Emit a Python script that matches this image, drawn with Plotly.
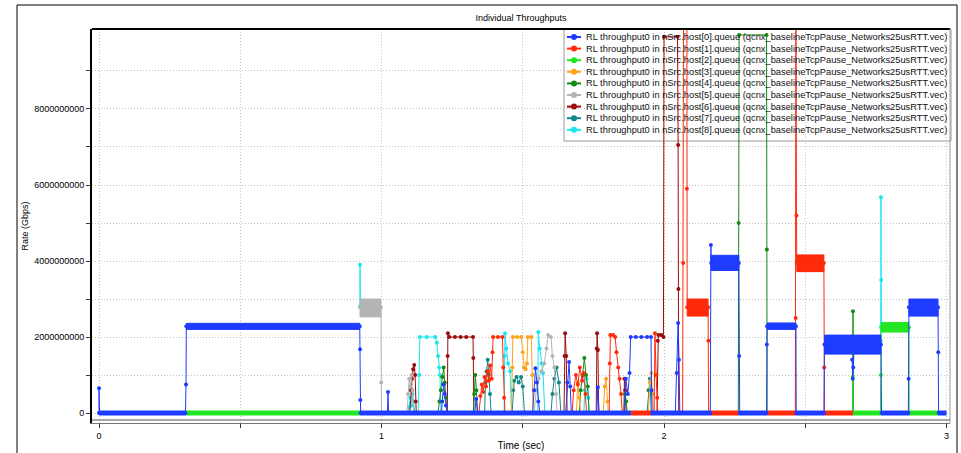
import plotly.graph_objects as go

# ---------------- data (time in s, rate in units of 1e9 bit/s) ----------------
HOST_NAMES = ["host[0]", "host[1]", "host[2]", "host[3]", "host[4]",
              "host[5]", "host[6]", "host[7]", "host[8]"]
LEGEND_TEMPLATE = "RL throughput0 in nSrc.{h}.queue (qcnx_baselineTcpPause_Networks25usRTT.vec)"
COLORS = ["#1e3cff", "#ff2a0a", "#22e622", "#ffa31a", "#138a13",
          "#b4b4b4", "#9e0b0b", "#0f8585", "#19e6f0"]

X_TICKS = [0, 0.5, 1, 1.5, 2, 2.5, 3]
X_TICKTEXT = ["0", "", "1", "", "2", "", "3"]
Y_TICKS = [0, 1e9, 2e9, 3e9, 4e9, 5e9, 6e9, 7e9, 8e9, 9e9]
Y_TICKTEXT = ["0", "", "2000000000", "", "4000000000", "", "6000000000", "", "8000000000", ""]

host0_points = [(0.000, 0.00), (0.000, 0.65), (0.002, 0.00), None,
                (0.306, 0.00), (0.308, 0.75), (0.309, 2.28), None,
                (0.923, 2.28), (0.924, 1.68), (0.925, 0.34), (0.926, 0.00), None,
                (1.021, 0.00), (1.023, 0.55), (1.025, 0.00), None,
                (1.212, 0.00), (1.215, 0.30), (1.220, 0.75), (1.224, 0.50), (1.228, 0.20), (1.232, 0.00), None,
                (1.330, 0.00), (1.335, 0.37), (1.340, 0.00), None,
                (1.535, 0.00), (1.540, 0.60), (1.545, 1.18), (1.550, 0.80), (1.555, 0.30), (1.560, 0.00), None,
                (1.652, 0.00), (1.658, 0.80), (1.664, 1.34), (1.668, 0.70), (1.672, 0.00), None,
                (1.762, 0.00), (1.766, 0.68), (1.770, 0.00), None,
                (1.860, 0.00), (1.865, 0.90), (1.872, 0.50), (1.878, 1.05), (1.882, 2.00), (1.900, 2.00),
                (1.920, 2.00), (1.940, 2.00), (1.954, 2.00), (1.956, 0.60), (1.958, 0.00), None,
                (2.040, 0.00), (2.045, 1.05), (2.050, 2.37), (2.053, 1.40), (2.056, 0.00), None,
                (2.164, 0.00), (2.166, 4.42), (2.167, 3.95), None,
                (2.265, 3.95), (2.266, 1.50), (2.268, 0.00), None,
                (2.363, 0.00), (2.364, 1.80), (2.365, 2.28), None,
                (2.467, 2.28), (2.468, 0.00), None,
                (2.566, 0.00), (2.568, 1.80), None,
                (2.666, 1.40), (2.668, 0.90), (2.670, 1.20), (2.672, 1.60), None,
                (2.768, 1.80), (2.770, 0.00), None,
                (2.865, 0.00), (2.866, 0.90), (2.867, 2.78), None,
                (2.970, 2.78), (2.971, 1.60), (2.972, 0.00)]
host0_bands = [(0.309, 0.923, 2.20, 2.36), (2.166, 2.265, 3.75, 4.15), (2.365, 2.467, 2.20, 2.37),
               (2.568, 2.768, 1.55, 2.05), (2.867, 2.970, 2.55, 3.00)]
host0_idle = [(0.000, 0.308), (0.924, 1.883), (1.954, 2.166), (2.265, 2.365),
              (2.467, 2.568), (2.768, 2.867), (2.970, 3.000)]

host1_points = [(1.345, 0.00), (1.350, 0.45), (1.355, 0.75), (1.360, 0.55), (1.365, 0.95), (1.370, 0.70),
                (1.375, 1.10), (1.380, 0.85), (1.385, 1.25), (1.390, 0.90), (1.393, 1.60), (1.395, 2.00),
                (1.412, 2.00), (1.428, 2.00), (1.431, 1.20), (1.434, 0.40), (1.437, 0.00), None,
                (1.675, 0.00), (1.680, 0.60), (1.688, 1.00), (1.695, 0.75), (1.702, 1.20), (1.710, 0.85),
                (1.716, 1.05), (1.722, 0.50), (1.726, 0.00), None,
                (1.806, 0.00), (1.808, 1.30), (1.810, 2.05), (1.820, 2.05), (1.827, 2.00), (1.832, 1.60),
                (1.838, 1.20), (1.843, 0.90), (1.848, 0.50), (1.852, 0.00), None,
                (1.965, 0.00), (1.968, 2.10), (1.972, 1.00), (1.976, 0.40), (1.978, 0.00), None,
                (2.066, 0.00), (2.068, 3.95), (2.069, 10.3), None,
                (2.081, 10.3), (2.081, 5.90), (2.082, 2.78), None,
                (2.156, 2.78), (2.157, 1.90), (2.158, 0.00), None,
                (2.465, 0.00), (2.466, 2.50), (2.467, 10.3), (2.469, 5.20), (2.470, 3.95), None,
                (2.566, 3.95), (2.567, 1.20), (2.568, 0.00)]
host1_bands = [(2.082, 2.156, 2.55, 3.00), (2.470, 2.566, 3.72, 4.16)]
host1_idle = [(1.883, 1.954), (2.166, 2.265), (2.365, 2.467), (2.568, 2.669)]

host2_points = [(2.668, 0.95), (2.669, 0.00), None,
                (2.766, 0.00), (2.768, 1.00), (2.769, 2.25), None,
                (2.867, 2.25), (2.868, 0.00)]
host2_bands = [(2.769, 2.867, 2.13, 2.38)]
host2_idle = [(0.308, 0.924), (2.669, 2.768), (2.867, 2.970)]

host3_points = [(1.460, 0.00), (1.463, 1.20), (1.465, 2.00), (1.480, 2.00), (1.495, 2.00), (1.500, 1.60),
                (1.505, 1.20), (1.510, 1.15), (1.515, 1.30), (1.518, 2.00), (1.530, 2.00), (1.534, 1.00),
                (1.536, 0.00), None,
                (1.690, 0.00), (1.695, 0.80), (1.700, 0.40), (1.705, 0.00), None,
                (1.785, 0.00), (1.790, 0.70), (1.795, 0.90), (1.800, 0.30), (1.803, 0.00), None,
                (1.945, 0.00), (1.950, 0.80), (1.955, 1.05), (1.960, 0.50), (1.963, 0.00)]
host3_bands = []
host3_idle = []

host4_points = [(1.200, 0.00), (1.205, 0.30), (1.210, 0.60), (1.215, 0.95), (1.220, 1.20), (1.224, 0.80),
                (1.228, 0.40), (1.232, 0.00), None,
                (1.325, 0.00), (1.328, 0.50), (1.332, 1.00), (1.336, 0.60), (1.340, 0.00), None,
                (1.700, 0.00), (1.705, 0.60), (1.712, 1.00), (1.718, 1.45), (1.724, 1.00), (1.730, 0.70),
                (1.735, 0.00), None,
                (1.858, 0.00), (1.862, 0.50), (1.866, 0.30), (1.870, 0.00), None,
                (2.263, 0.00), (2.264, 5.00), (2.266, 9.95), (2.363, 9.95), (2.364, 4.30), (2.365, 0.00), None,
                (2.668, 0.00), (2.669, 2.68), (2.670, 0.00)]
host4_bands = []
host4_idle = []

host5_points = [(0.924, 2.78), None,
                (0.998, 2.78), (0.999, 0.80), (1.000, 0.00), None,
                (1.090, 0.00), (1.094, 0.50), (1.098, 0.90), (1.102, 0.70), (1.106, 1.00), (1.110, 0.60),
                (1.114, 0.00), None,
                (1.540, 0.00), (1.548, 0.60), (1.556, 0.90), (1.566, 1.10), (1.576, 1.30), (1.584, 1.70),
                (1.590, 2.05), (1.600, 2.00), (1.605, 1.50), (1.612, 1.20), (1.618, 0.50), (1.622, 0.00)]
host5_bands = [(0.924, 0.998, 2.53, 3.00)]
host5_idle = []

host6_points = [(1.100, 0.00), (1.104, 0.60), (1.108, 0.90), (1.112, 1.15), (1.116, 1.26), (1.119, 1.00),
                (1.121, 0.30), (1.123, 0.00), None,
                (1.233, 0.00), (1.234, 1.50), (1.235, 2.10), (1.240, 2.00), (1.260, 2.00), (1.280, 2.00),
                (1.300, 2.00), (1.324, 2.00), (1.325, 1.45), (1.327, 0.00), None,
                (1.646, 0.00), (1.648, 1.50), (1.650, 2.10), (1.654, 1.50), (1.657, 0.00), None,
                (1.760, 0.00), (1.762, 1.70), (1.763, 2.10), (1.766, 1.66), (1.769, 0.00), None,
                (1.858, 0.00), (1.860, 0.90), (1.863, 0.60), (1.866, 0.00), None,
                (1.975, 0.00), (1.978, 1.90), (1.980, 2.05), (1.990, 2.05), (1.998, 2.00), (2.000, 9.90),
                (2.048, 9.90), (2.050, 7.05), (2.051, 3.26), (2.052, 0.00)]
host6_bands = []
host6_idle = []

host7_points = [(1.365, 0.00), (1.368, 0.80), (1.372, 1.10), (1.376, 1.40), (1.380, 1.00), (1.384, 0.50),
                (1.388, 0.00), None,
                (1.462, 0.00), (1.466, 0.60), (1.470, 0.85), (1.478, 0.95), (1.486, 0.80), (1.494, 0.95),
                (1.500, 0.70), (1.506, 0.00), None,
                (1.600, 0.00), (1.605, 0.50), (1.612, 0.90), (1.620, 1.20), (1.628, 0.80), (1.635, 0.00), None,
                (1.940, 0.00), (1.945, 0.60), (1.950, 0.90), (1.955, 0.00)]
host7_bands = []
host7_idle = []

host8_points = [(0.924, 2.80), (0.924, 3.90), (0.925, 2.80), None,
                (1.094, 0.00), (1.098, 0.15), (1.102, 0.40), (1.106, 0.20), (1.110, 0.50), (1.114, 0.30),
                (1.118, 0.00), None,
                (1.130, 0.00), (1.134, 1.00), (1.136, 2.00), (1.160, 2.00), (1.190, 2.00), (1.196, 1.85),
                (1.200, 1.50), (1.204, 1.20), (1.207, 1.00), (1.210, 0.00), None,
                (1.434, 0.00), (1.436, 1.50), (1.437, 2.10), (1.442, 1.70), (1.448, 1.30), (1.455, 1.10),
                (1.460, 0.00), None,
                (1.553, 0.00), (1.555, 2.13), (1.560, 1.70), (1.566, 1.30), (1.572, 1.05), (1.578, 0.00), None,
                (1.716, 0.00), (1.720, 0.60), (1.726, 0.90), (1.732, 0.40), (1.736, 0.00), None,
                (2.767, 1.90), (2.768, 5.68), (2.769, 3.50), (2.770, 2.30)]
host8_bands = []
host8_idle = []

POINTS = [host0_points, host1_points, host2_points, host3_points, host4_points,
          host5_points, host6_points, host7_points, host8_points]
BANDS = [host0_bands, host1_bands, host2_bands, host3_bands, host4_bands,
         host5_bands, host6_bands, host7_bands, host8_bands]
IDLE = [host0_idle, host1_idle, host2_idle, host3_idle, host4_idle,
        host5_idle, host6_idle, host7_idle, host8_idle]
SCALE = 1e9

# ---------------- figure ----------------
W, H = 961, 453
ML, MR, MT, MB = 92, 11, 29, 30
PW, PH = W - ML - MR, H - MT - MB
FONT = "Liberation Sans, Arial, sans-serif"

fig = go.Figure()

for i in reversed(range(len(HOST_NAMES))):
    col = COLORS[i]
    xs, ys = [], []
    for p in POINTS[i]:
        if p is None:
            xs.append(None); ys.append(None)
        else:
            xs.append(p[0]); ys.append(p[1] * SCALE)
    fig.add_trace(go.Scatter(x=xs, y=ys, mode="lines+markers", name=HOST_NAMES[i],
                             line=dict(color=col, width=1),
                             marker=dict(color=col, size=4), showlegend=False))
    if BANDS[i]:
        bx, by = [], []
        for t0, t1, lo, hi in BANDS[i]:
            bx += [t0, t1, t1, t0, t0, None]
            by += [lo * SCALE, lo * SCALE, hi * SCALE, hi * SCALE, lo * SCALE, None]
        fig.add_trace(go.Scatter(x=bx, y=by, mode="lines", fill="toself", fillcolor=col,
                                 line=dict(color=col, width=1), showlegend=False, hoverinfo="skip"))
    if IDLE[i]:
        ix, iy = [], []
        for t0, t1 in IDLE[i]:
            ix += [t0, t1, None]
            iy += [0, 0, None]
        fig.add_trace(go.Scatter(x=ix, y=iy, mode="lines", line=dict(color=col, width=5),
                                 showlegend=False, hoverinfo="skip"))

def px_x(px):
    return (px - ML) / PW

def px_y(py):
    return (H - MB - py) / PH

shapes = []
annotations = []
# legend box (behind the data)
shapes.append(dict(type="rect", xref="paper", yref="paper", layer="below",
                   x0=px_x(564), x1=px_x(951), y0=px_y(141), y1=px_y(29),
                   fillcolor="white", line=dict(color="#9a9a9a", width=1)))
for i, h in enumerate(HOST_NAMES):
    cy = 37 + 11.6 * i
    shapes.append(dict(type="line", xref="paper", yref="paper",
                       x0=px_x(567), x1=px_x(581), y0=px_y(cy), y1=px_y(cy),
                       line=dict(color=COLORS[i], width=2)))
    shapes.append(dict(type="circle", xref="paper", yref="paper",
                       x0=px_x(571), x1=px_x(577), y0=px_y(cy + 3), y1=px_y(cy - 3),
                       fillcolor=COLORS[i], line=dict(color=COLORS[i], width=0)))
    annotations.append(dict(xref="paper", yref="paper", x=px_x(584), y=px_y(cy),
                            xanchor="left", yanchor="middle", showarrow=False,
                            text=LEGEND_TEMPLATE.format(h=h),
                            font=dict(family=FONT, size=9.3, color="#111")))
# plot frame
shapes.append(dict(type="line", xref="paper", yref="paper", x0=0, x1=1, y0=1, y1=1,
                   line=dict(color="black", width=2)))
shapes.append(dict(type="line", xref="paper", yref="paper", x0=1, x1=1, y0=0, y1=1,
                   line=dict(color="#9a9a9a", width=1)))
shapes.append(dict(type="line", xref="paper", yref="paper", x0=0, x1=1,
                   y0=px_y(420), y1=px_y(420), line=dict(color="#555", width=1)))
# outer frame
shapes.append(dict(type="rect", xref="paper", yref="paper",
                   x0=px_x(17), x1=px_x(957), y0=px_y(475), y1=px_y(5),
                   line=dict(color="black", width=1), fillcolor="rgba(0,0,0,0)"))

fig.update_layout(
    width=W, height=H,
    margin=dict(l=ML, r=MR, t=MT, b=MB, autoexpand=False),
    paper_bgcolor="white", plot_bgcolor="white",
    font=dict(family=FONT, size=9, color="black"),
    title=dict(text="Individual Throughputs", x=px_x(521), xref="paper",
               y=1 - 18 / H, yref="container", xanchor="center", yanchor="middle",
               font=dict(family=FONT, size=9)),
    showlegend=False,
    shapes=shapes,
    annotations=annotations,
    xaxis=dict(range=[-0.0248, 3.0124], tickvals=X_TICKS, ticktext=X_TICKTEXT,
               automargin=False,
               showgrid=True, gridcolor="#c4c4c4", griddash="1px,2px", gridwidth=1,
               zeroline=False, showline=True, linecolor="#777", linewidth=1,
               ticks="outside", ticklen=4, tickcolor="#333",
               title=dict(text="Time (sec)", standoff=2, font=dict(family=FONT, size=10)),
               tickfont=dict(family=FONT, size=9)),
    yaxis=dict(range=[-0.263e9, 10.105e9], tickvals=Y_TICKS, ticktext=Y_TICKTEXT,
               automargin=False,
               showgrid=True, gridcolor="#c4c4c4", griddash="1px,2px", gridwidth=1,
               zeroline=False, showline=True, linecolor="black", linewidth=2,
               ticks="outside", ticklen=4, tickcolor="#333",
               title=dict(text="Rate (Gbps)", standoff=4, font=dict(family=FONT, size=9)),
               tickfont=dict(family=FONT, size=9)),
)

fig.write_html("out.html")
